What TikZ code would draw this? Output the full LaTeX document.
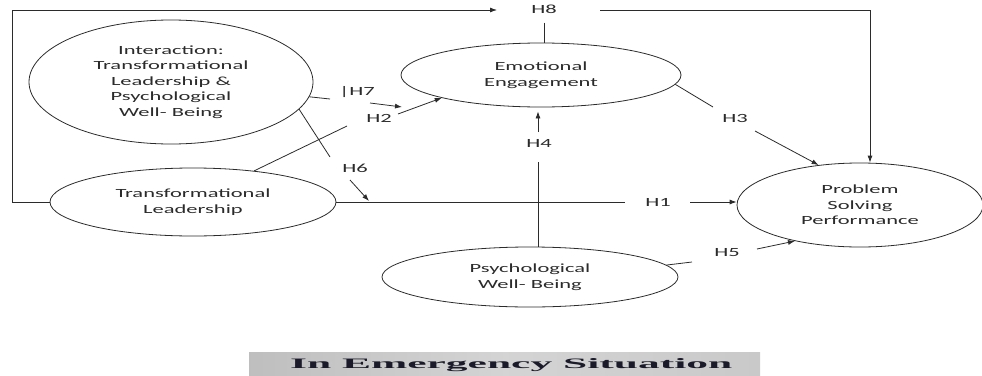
\documentclass[tikz,border=0pt]{standalone}
\usepackage{graphicx}
\usepackage{fontspec}
\setmainfont{Carlito}[FakeStretch=1.8]
\newfontfamily\bannerfont{Liberation Serif}
\usetikzlibrary{shapes.geometric,arrows.meta}
\pgfdeclarehorizontalshading{bannershade}{100bp}{color(0bp)=(black!55); color(20bp)=(black!27); color(50bp)=(black!17); color(80bp)=(black!22); color(100bp)=(black!42)}
\definecolor{ink}{HTML}{2B2B2B}
\definecolor{bannerink}{HTML}{1A1A2A}
\tikzset{
  construct/.style={ellipse, draw=ink, line width=0.8pt, inner sep=0pt, align=center, text=ink, font=\fontsize{12.5}{15.5}\selectfont},
  hlabel/.style={text=ink, font=\fontsize{12.5}{15}\selectfont, inner sep=1pt},
  link/.style={draw=ink, line width=0.8pt},
  arr/.style={link, -{Latex[length=7pt,width=5pt]}},
}
\begin{document}
\begin{tikzpicture}[x=1pt,y=-1pt]
\useasboundingbox (0,0) rectangle (982,375);

% constructs
\node[construct, minimum width=284pt, minimum height=124pt] (int) at (171,82) {Interaction:\\Transformational\\Leadership \&\\Psychological\\Well- Being};
\node[construct, minimum width=286pt, minimum height=68pt] (tl) at (193,202) {Transformational\\Leadership};
\node[construct, minimum width=280pt, minimum height=64pt] (ee) at (541,75) {Emotional\\Engagement};
\node[construct, minimum width=246pt, minimum height=84pt] (psp) at (860,205) {Problem\\Solving\\Performance};
\node[construct, minimum width=296pt, minimum height=60pt] (pwb) at (530,277) {Psychological\\Well- Being};

% H8
\node[hlabel] (h8) at (544,9) {H8};
\coordinate (h8corner) at (12,10);
\coordinate (h8in) at (497,10);
\coordinate (h8out) at (600,10);
\coordinate (h8turn) at (870,10);
\draw[arr] (tl.west) -| (h8corner) -- (h8in);
\draw[arr] (h8out) -- (h8turn) -- (h8turn |- psp.north);
\draw[link, shorten <=8pt] (h8.south) -- (h8.south |- ee.north);

% H7
\node[hlabel] (h7) at (357,92) {|H7};
\coordinate (h7a) at (330,99);
\coordinate (h7b) at (370,103);
\coordinate (h7e) at (402,107);
\draw[link] (int) -- (h7a);
\draw[arr] (h7b) -- (h7e);

% H2
\node[hlabel] (h2) at (379,118) {H2};
\coordinate (h2a) at (347,126);
\coordinate (h2b) at (398,114);
\draw[link] (tl.27) -- (h2a);
\draw[arr] (h2b) -- (ee.193);

% H6
\node[hlabel] (h6) at (355,168) {H6};
\coordinate (h6a) at (330,157);
\coordinate (h6b) at (350,180);
\coordinate (h6e) at (369,201);
\draw[link] (int.-12) -- (h6a);
\draw[arr] (h6b) -- (h6e);

% H1
\node[hlabel] (h1) at (658,202) {H1};
\coordinate (h1a) at (625,202);
\coordinate (h1b) at (690,202);
\draw[link] (tl.east) -- (h1a);
\draw[arr] (h1b) -- (h1b -| psp.west);

% H4
\node[hlabel] (h4) at (539,143) {H4};
\coordinate (h4a) at (538,162);
\coordinate (h4b) at (538,132);
\draw[link] (h4a) -- (h4a |- pwb.north);
\draw[arr, shorten >=4pt] (h4b) -- (h4b |- ee.south);

% H3
\node[hlabel] (h3) at (735,118) {H3};
\coordinate (h3a) at (713,107);
\coordinate (h3b) at (755,131);
\draw[link] (ee.-4) -- (h3a);
\draw[arr] (h3b) -- (psp.136);

% H5
\node[hlabel] (h5) at (727,253) {H5};
\coordinate (h5a) at (692,262);
\coordinate (h5b) at (757,249);
\draw[link] (pwb.5) -- (h5a);
\draw[arr] (h5b) -- (psp.209);

% banner
\node[shade, shading=bannershade, minimum width=511pt, minimum height=23pt, inner sep=0pt] (bannerbox) at (504.5,363.5) {};
\node[anchor=base west, inner sep=0pt, text=bannerink] (bannertext) at (290,368) {\resizebox{442pt}{10pt}{\bannerfont\bfseries In Emergency Situation}};
\end{tikzpicture}
\end{document}
